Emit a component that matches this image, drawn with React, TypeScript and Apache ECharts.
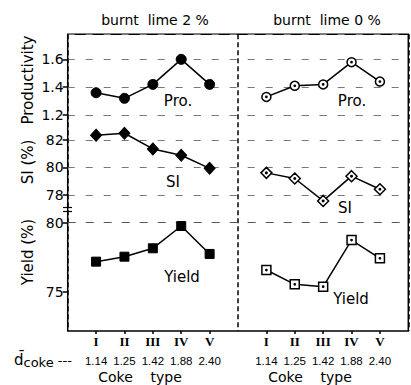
import React, { useEffect, useRef } from 'react';
import * as echarts from 'echarts';

// ---- data ----
const cokeTypes = ['I', 'II', 'III', 'IV', 'V'];
const dCoke = ['1.14', '1.25', '1.42', '1.88', '2.40'];
const panelTitles = ['burnt  lime 2 %', 'burnt  lime 0 %'];

const prodLime2 = [1.36, 1.32, 1.42, 1.6, 1.42];
const prodLime0 = [1.33, 1.41, 1.42, 1.58, 1.44];
const siLime2 = [82.35, 82.49, 81.35, 80.89, 79.94];
const siLime0 = [79.61, 79.2, 77.57, 79.37, 78.42];
const yieldLime2 = [77.17, 77.53, 78.14, 79.76, 77.73];
const yieldLime0 = [76.56, 75.52, 75.35, 78.74, 77.41];

const yieldTicks = [75, 80];

// category slots: empty edge, 5 coke types, divider, 5 coke types, empty edge
const xCats = ['', ...cokeTypes, '', ...cokeTypes, ''];

const FONT = 'DejaVu Sans';
const L = 67.7;
const W = 340.6;

const circleDot =
  'path://M10,0A10,10,0,1,1,10,20A10,10,0,1,1,10,0ZM10,8.6A1.4,1.4,0,1,1,10,11.4A1.4,1.4,0,1,1,10,8.6Z';
const diamondDot =
  'path://M10,0L20,10L10,20L0,10ZM10,8.6A1.4,1.4,0,1,1,10,11.4A1.4,1.4,0,1,1,10,8.6Z';
const squareDot =
  'path://M0,0L20,0L20,20L0,20ZM10,8.6A1.4,1.4,0,1,1,10,11.4A1.4,1.4,0,1,1,10,8.6Z';

function labelFor(idx: number) {
  if (idx >= 1 && idx <= 5) return idx - 1;
  if (idx >= 7 && idx <= 11) return idx - 7;
  return -1;
}

export default function App() {
  const ref = useRef<HTMLDivElement>(null);

  useEffect(() => {
    if (!ref.current) return;
    const chart = echarts.init(ref.current, null, { renderer: 'svg' });

    const gridLine = { show: true, lineStyle: { color: '#777', width: 1, type: [7, 11] as any } };
    const yLabel = { color: '#000', fontFamily: FONT, fontSize: 14, margin: 4 };
    const yTick = { show: true, inside: false, length: 5, lineStyle: { color: '#000', width: 1.5 } };

    const mkX = (gi: number) => ({
      type: 'category',
      gridIndex: gi,
      data: xCats,
      boundaryGap: false,
      show: gi === 2,
      axisLine: { show: false },
      axisTick: {
        show: true,
        length: 3,
        interval: (i: number) => labelFor(i) >= 0,
        lineStyle: { color: '#000', width: 1.5 },
      },
      axisLabel: {
        interval: 0,
        margin: 3,
        formatter: (_v: string, i: number) => {
          const k = labelFor(i);
          if (k < 0) return '';
          return `{r|${cokeTypes[k]}}\n{d|${dCoke[k]}}`;
        },
        rich: {
          r: { fontFamily: 'Liberation Serif', fontWeight: 'bold', fontSize: 13, lineHeight: 14, color: '#000' },
          d: { fontFamily: 'Liberation Sans', fontSize: 11.5, lineHeight: 26, color: '#000' },
        },
      },
      splitLine: { show: false },
    });

    const lineBase = (xAxisIndex: number) => ({
      type: 'line',
      xAxisIndex,
      yAxisIndex: xAxisIndex,
      lineStyle: { color: '#000', width: 1.5 },
      showSymbol: true,
      clip: false,
      z: 5,
    });
    const filled = { color: '#000', borderColor: '#000', borderWidth: 1 };
    const open = { color: '#fff', borderColor: '#000', borderWidth: 1.5 };

    const option: any = {
      animation: false,
      backgroundColor: '#fff',
      grid: [
        { left: L, top: 34.3, width: W, height: 80.7, outerBoundsMode: 'none' },
        { left: L, top: 115, width: W, height: 80, outerBoundsMode: 'none' },
        { left: L, top: 222.7, width: W, height: 108.3, outerBoundsMode: 'none' },
        {
          left: L, top: 34.3, width: W, height: 296.7, outerBoundsMode: 'none',
          show: true, borderColor: '#000', borderWidth: 1.5, backgroundColor: 'transparent',
        },
      ],
      xAxis: [
        mkX(0),
        mkX(1),
        mkX(2),
        {
          type: 'value', gridIndex: 3, min: 0, max: 12, interval: 6,
          axisLine: { show: false }, axisTick: { show: false }, axisLabel: { show: false },
          splitLine: { show: true, lineStyle: { color: '#000', width: 1.5, type: [5, 3] } },
        },
      ],
      yAxis: [
        {
          type: 'value', gridIndex: 0, min: 1.2, max: 1.78, interval: 0.2,
          axisLine: { show: false }, axisTick: yTick,
          axisLabel: { ...yLabel, showMaxLabel: false, formatter: (v: number) => v.toFixed(1) },
          splitLine: gridLine,
        },
        {
          type: 'value', gridIndex: 1, min: 78, max: 83.818, interval: 2,
          axisLine: { show: false }, axisTick: yTick,
          axisLabel: { ...yLabel, showMaxLabel: false, formatter: (v: number) => String(Math.round(v)) },
          splitLine: gridLine,
        },
        {
          type: 'value', gridIndex: 2, min: 72.13, max: 80,
          axisLine: { show: false },
          axisTick: { ...yTick, customValues: yieldTicks },
          axisLabel: { ...yLabel, customValues: yieldTicks },
          splitLine: { show: false },
        },
        { type: 'value', gridIndex: 3, show: false },
      ],
      series: [
        {
          ...lineBase(0), name: 'Pro. lime 2',
          data: prodLime2.map((v, i) => [i + 1, v]),
          symbol: 'circle', symbolSize: 10, itemStyle: filled,
        },
        {
          ...lineBase(0), name: 'Pro. lime 0',
          data: prodLime0.map((v, i) => [i + 7, v]),
          symbol: circleDot, symbolSize: 9, itemStyle: open,
        },
        {
          ...lineBase(1), name: 'SI lime 2',
          data: siLime2.map((v, i) => [i + 1, v]),
          symbol: 'diamond', symbolSize: [11, 12], itemStyle: filled,
        },
        {
          ...lineBase(1), name: 'SI lime 0',
          data: siLime0.map((v, i) => [i + 7, v]),
          symbol: diamondDot, symbolSize: 11, itemStyle: open,
        },
        {
          ...lineBase(2), name: 'Yield lime 2',
          data: yieldLime2.map((v, i) => [i + 1, v]),
          symbol: 'rect', symbolSize: 9, itemStyle: filled,
          markLine: {
            silent: true, symbol: ['none', 'none'], label: { show: false },
            lineStyle: { color: '#555', width: 1, type: [8, 10] },
            data: [{ yAxis: yieldTicks[yieldTicks.length - 1] }],
          },
        },
        {
          ...lineBase(2), name: 'Yield lime 0',
          data: yieldLime0.map((v, i) => [i + 7, v]),
          symbol: squareDot, symbolSize: 9, itemStyle: open,
        },
      ],
      graphic: [
        { type: 'text', x: 155, y: 20, style: { text: panelTitles[0], font: `14px "${FONT}"`, fill: '#000', align: 'center', verticalAlign: 'middle' } },
        { type: 'text', x: 327, y: 20, style: { text: panelTitles[1], font: `14px "${FONT}"`, fill: '#000', align: 'center', verticalAlign: 'middle' } },
        { type: 'text', x: 28, y: 80, rotation: Math.PI / 2, style: { text: 'Productivity', font: `15px "${FONT}"`, fill: '#000', align: 'center', verticalAlign: 'middle' } },
        { type: 'text', x: 28, y: 162, rotation: Math.PI / 2, style: { text: 'SI (%)', font: `15px "${FONT}"`, fill: '#000', align: 'center', verticalAlign: 'middle' } },
        { type: 'text', x: 28, y: 252, rotation: Math.PI / 2, style: { text: 'Yield (%)', font: `15px "${FONT}"`, fill: '#000', align: 'center', verticalAlign: 'middle' } },
        { type: 'text', x: 178, y: 101, style: { text: 'Pro.', font: `15px "${FONT}"`, fill: '#000', align: 'center', verticalAlign: 'middle' } },
        { type: 'text', x: 352, y: 101, style: { text: 'Pro.', font: `15px "${FONT}"`, fill: '#000', align: 'center', verticalAlign: 'middle' } },
        { type: 'text', x: 173, y: 182, style: { text: 'SI', font: `15px "${FONT}"`, fill: '#000', align: 'center', verticalAlign: 'middle' } },
        { type: 'text', x: 345, y: 208, style: { text: 'SI', font: `15px "${FONT}"`, fill: '#000', align: 'center', verticalAlign: 'middle' } },
        { type: 'text', x: 182, y: 277, style: { text: 'Yield', font: `15px "${FONT}"`, fill: '#000', align: 'center', verticalAlign: 'middle' } },
        { type: 'text', x: 351, y: 299, style: { text: 'Yield', font: `15px "${FONT}"`, fill: '#000', align: 'center', verticalAlign: 'middle' } },
        {
          type: 'text', x: 14, y: 360,
          style: {
            text: '{d|d\u0304}{s|coke} ---',
            rich: {
              d: { fontFamily: FONT, fontSize: 15, fill: '#000' },
              s: { fontFamily: FONT, fontSize: 13, fill: '#000', padding: [4, 0, 0, 0] },
            },
            fontFamily: FONT, fontSize: 13, fill: '#000', align: 'left', verticalAlign: 'middle',
          },
        },
        { type: 'text', x: 140, y: 377, style: { text: 'Coke    type', font: `14px "${FONT}"`, fill: '#000', align: 'center', verticalAlign: 'middle' } },
        { type: 'text', x: 310, y: 377, style: { text: 'Coke    type', font: `14px "${FONT}"`, fill: '#000', align: 'center', verticalAlign: 'middle' } },
        { type: 'line', shape: { x1: 63, y1: 207.5, x2: 72, y2: 207.5 }, style: { stroke: '#000', lineWidth: 1.2 } },
        { type: 'line', shape: { x1: 63, y1: 211.5, x2: 72, y2: 211.5 }, style: { stroke: '#000', lineWidth: 1.2 } },
      ],
    };

    chart.setOption(option);
    return () => chart.dispose();
  }, []);

  return (
    <div
      ref={ref}
      style={{ position: 'absolute', left: 0, top: 0, width: 411, height: 385, background: '#fff' }}
    />
  );
}
